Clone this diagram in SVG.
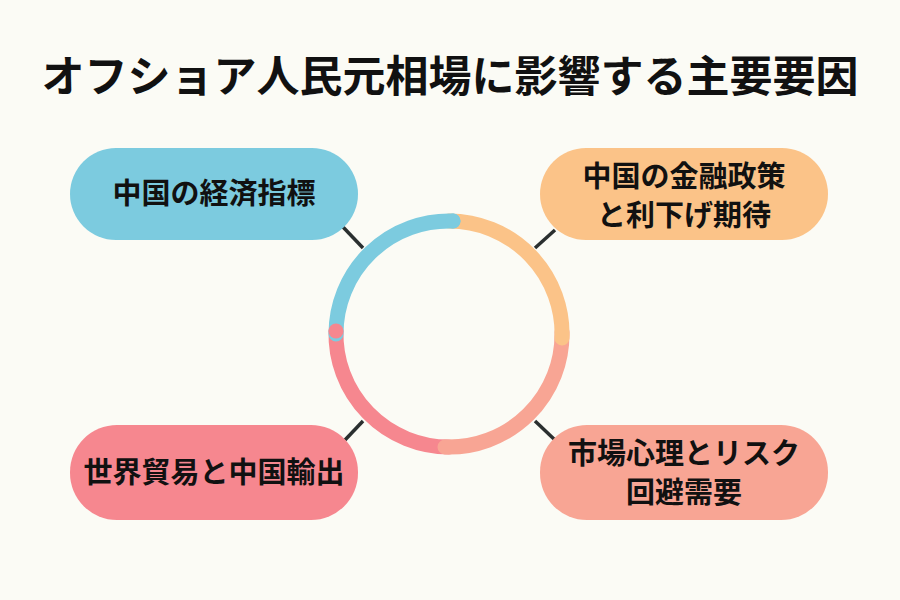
<svg xmlns="http://www.w3.org/2000/svg" width="900" height="600" viewBox="0 0 900 600">
<style>
.t{font-family:"Noto Sans CJK JP","Noto Sans",sans-serif;font-weight:bold;fill:#111;text-anchor:middle}
.bx{font-size:29px}
.r{fill:none;stroke-width:15;stroke-linecap:round}
.c{stroke:#2a2f2f;stroke-width:3.5}
</style>
<rect width="900" height="600" fill="#fbfbf5"/>
<text class="t" x="450" y="92" font-size="43">オフショア人民元相場に影響する主要要因</text>
<g id="connectors">
<line class="c" x1="343" y1="227" x2="363" y2="248"/>
<line class="c" x1="555" y1="230" x2="535" y2="248"/>
<line class="c" x1="345" y1="440" x2="363" y2="421"/>
<line class="c" x1="555" y1="440" x2="535" y2="421"/>
</g>
<g id="ring">
<path class="r" stroke="#f6878f" d="M449,447 A113,113 0 0 1 336,331"/>
<path class="r" stroke="#f8a594" d="M562,332 A113,113 0 0 1 445,447"/>
<path class="r" stroke="#fbc388" d="M449,221 A113,113 0 0 1 562,338"/>
<path class="r" stroke="#7ccbdf" stroke-linecap="butt" d="M336,334 A113,113 0 0 1 453,221"/>
<circle cx="453" cy="221" r="7.5" fill="#7ccbdf"/>
<circle cx="336" cy="331" r="7.5" fill="#f6878f"/>
</g>
<g id="n1">
<rect x="70" y="148" width="288" height="92" rx="46" fill="#7ccbdf"/>
<text class="t bx" x="214" y="204">中国の経済指標</text>
</g>
<g id="n2">
<rect x="540" y="148" width="288" height="92" rx="46" fill="#fbc388"/>
<text class="t bx" x="684" y="187">中国の金融政策</text>
<text class="t bx" x="684" y="226">と利下げ期待</text>
</g>
<g id="n3">
<rect x="70" y="425" width="288" height="95" rx="47" fill="#f6878f"/>
<text class="t bx" x="214" y="483">世界貿易と中国輸出</text>
</g>
<g id="n4">
<rect x="540" y="425" width="288" height="95" rx="47" fill="#f8a594"/>
<text class="t bx" x="684" y="464">市場心理とリスク</text>
<text class="t bx" x="684" y="503">回避需要</text>
</g>
</svg>
